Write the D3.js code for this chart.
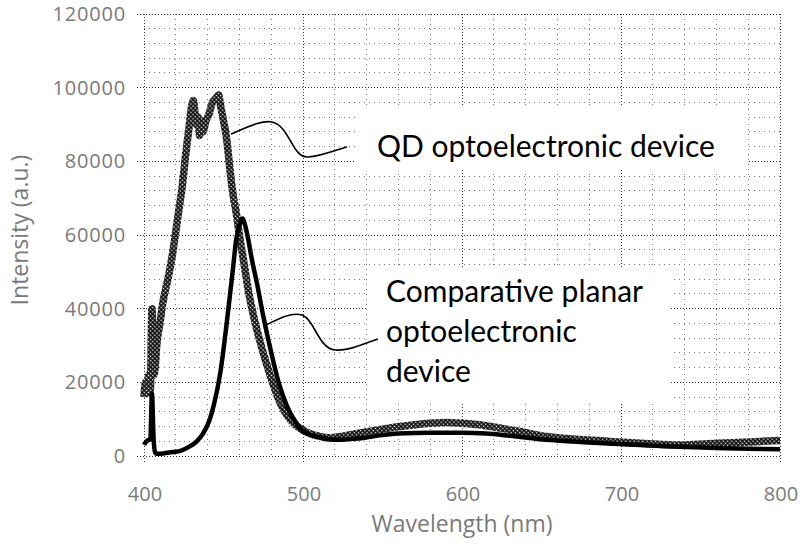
<!DOCTYPE html>
<html>
<head>
<meta charset="utf-8">
<script src="https://cdn.jsdelivr.net/npm/d3@7"></script>
<style>
  html, body { margin: 0; padding: 0; background: #fff; }
  svg { display: block; }
</style>
</head>
<body>
<svg id="chart" width="811" height="548"></svg>
<script>
// Emission spectra: wavelength (nm) vs intensity (a.u.)
const qdWavelength = [400, 401, 402, 403, 404, 405, 406, 407, 408, 410, 412, 415, 418, 420, 422, 424, 426, 428, 430, 431, 433, 434, 435, 436, 437, 439, 441, 443, 445, 447, 448, 450, 452, 454, 456, 458, 460, 463, 466, 470, 475, 480, 485, 490, 495, 500, 505, 510, 517, 525, 535, 550, 565, 580, 590, 600, 612, 625, 637, 653, 670, 685, 695, 715, 737, 755, 770, 785, 800];
const qdIntensity = [16000, 20000, 17000, 22000, 18000, 40000, 22000, 24000, 30000, 36000, 42000, 48000, 55000, 61000, 67000, 73000, 81000, 88000, 95000, 96500, 90000, 92000, 87000, 91000, 88000, 91000, 93000, 96000, 97000, 98000, 95500, 91000, 86000, 78000, 71000, 66000, 60000, 52000, 44000, 36000, 28000, 21000, 15000, 11000, 8500, 7000, 6000, 5400, 4900, 5400, 6200, 7300, 8200, 8900, 9100, 8900, 8400, 7500, 6600, 5300, 4600, 4200, 3900, 3400, 3000, 3300, 3600, 3900, 4200];

const planarWavelength = [400, 402, 404, 405, 406, 407, 408, 412, 418, 423, 428, 433, 437, 441, 444, 448, 453, 456, 458, 460, 462, 463, 465, 468, 471, 475, 479, 485, 490, 495, 500, 505, 510, 521, 530, 538, 548, 560, 580, 600, 615, 630, 653, 675, 695, 715, 737, 760, 780, 800];
const planarIntensity = [3000, 4200, 4500, 17000, 5000, 1000, 600, 700, 1100, 1400, 2400, 3900, 6000, 9500, 14000, 22600, 39700, 51000, 58800, 62500, 64500, 63500, 60000, 53000, 47000, 38000, 30000, 19500, 13500, 9500, 6800, 5700, 5100, 4400, 4600, 4900, 5600, 6100, 6300, 6300, 6100, 5500, 4400, 3800, 3300, 2900, 2500, 2200, 2000, 1800];

const xTicks = [400, 500, 600, 700, 800];
const yTicks = [0, 20000, 40000, 60000, 80000, 100000, 120000];
const xTitle = "Wavelength (nm)";
const yTitle = "Intensity (a.u.)";
const qdLabel = ["QD optoelectronic device"];
const planarLabel = ["Comparative planar", "optoelectronic", "device"];

const svg = d3.select("#chart");
const plotLeft = 144, plotRight = 780, plotTop = 14, plotBottom = 456;

const x = d3.scaleLinear().domain([400, 800]).range([plotLeft, plotRight]);
const y = d3.scaleLinear().domain([0, 120000]).range([plotBottom, plotTop]);

// chain-link texture for the QD trace
const defs = svg.append("defs");
const pat = defs.append("pattern")
  .attr("id", "mesh").attr("patternUnits", "userSpaceOnUse")
  .attr("width", 3).attr("height", 3)
  .attr("patternTransform", "rotate(45)");
pat.append("rect").attr("width", 3).attr("height", 3).attr("fill", "#111");
pat.append("circle").attr("cx", 1.5).attr("cy", 1.5).attr("r", 0.8).attr("fill", "#fff");

// grid
const grid = svg.append("g");
const minorX = d3.range(400, 801, 20).filter(v => v % 100 !== 0);
const minorY = d3.range(0, 120001, 4000).filter(v => v % 20000 !== 0);
grid.selectAll("line.mx").data(minorX).join("line")
  .attr("x1", d => x(d)).attr("x2", d => x(d)).attr("y1", plotTop).attr("y2", plotBottom)
  .attr("stroke", "#777").attr("stroke-width", 1).attr("stroke-dasharray", "1,4")
  .attr("shape-rendering", "crispEdges");
grid.selectAll("line.my").data(minorY).join("line")
  .attr("x1", plotLeft).attr("x2", plotRight).attr("y1", d => y(d)).attr("y2", d => y(d))
  .attr("stroke", "#777").attr("stroke-width", 1).attr("stroke-dasharray", "1,4")
  .attr("shape-rendering", "crispEdges");
grid.selectAll("line.Mx").data(xTicks).join("line")
  .attr("x1", d => x(d)).attr("x2", d => x(d)).attr("y1", plotTop).attr("y2", plotBottom + 8)
  .attr("stroke", "#333").attr("stroke-width", 1).attr("stroke-dasharray", "1,2")
  .attr("shape-rendering", "crispEdges");
grid.selectAll("line.My").data(yTicks).join("line")
  .attr("x1", plotLeft - 7).attr("x2", plotRight).attr("y1", d => y(d)).attr("y2", d => y(d))
  .attr("stroke", "#333").attr("stroke-width", 1).attr("stroke-dasharray", "1,2")
  .attr("shape-rendering", "crispEdges");

// tick labels
const tickFont = "'Open Sans', 'Noto Sans', sans-serif";
svg.append("g").selectAll("text").data(yTicks).join("text")
  .attr("x", 126).attr("y", d => y(d) + 7)
  .attr("text-anchor", "end").attr("font-family", tickFont).attr("font-size", 20)
  .attr("letter-spacing", 0.8)
  .attr("fill", "#7a7a7a").text(d => d);
svg.append("g").selectAll("text").data(xTicks).join("text")
  .attr("x", d => x(d) + 1).attr("y", 501)
  .attr("text-anchor", "middle").attr("font-family", tickFont).attr("font-size", 20)
  .attr("fill", "#7a7a7a").text(d => d);

svg.append("text").attr("x", 462).attr("y", 532)
  .attr("text-anchor", "middle").attr("font-family", tickFont).attr("font-size", 23)
  .attr("fill", "#7a7a7a").text(xTitle);
svg.append("text").attr("transform", "translate(28,230) rotate(-90)")
  .attr("text-anchor", "middle").attr("font-family", tickFont).attr("font-size", 23)
  .attr("fill", "#7a7a7a").text(yTitle);

// spectra
const line = d3.line().x(d => x(d[0])).y(d => y(d[1])).curve(d3.curveMonotoneX);
svg.append("path").datum(d3.zip(qdWavelength, qdIntensity))
  .attr("d", line).attr("fill", "none").attr("stroke", "url(#mesh)")
  .attr("stroke-width", 7.5).attr("stroke-linejoin", "round");
svg.append("path").datum(d3.zip(planarWavelength, planarIntensity))
  .attr("d", line).attr("fill", "none").attr("stroke", "#000")
  .attr("stroke-width", 4.5).attr("stroke-linejoin", "round");

// label boxes
const labelFont = "Lato, 'Open Sans', sans-serif";
svg.append("rect").attr("x", 355).attr("y", 106).attr("width", 392).attr("height", 64).attr("fill", "#fff");
svg.append("rect").attr("x", 367).attr("y", 268).attr("width", 303).attr("height", 134).attr("fill", "#fff");

svg.append("text").attr("x", 377).attr("y", 157)
  .attr("font-family", labelFont).attr("font-size", 30).attr("fill", "#000")
  .text(qdLabel[0]);
svg.append("g").selectAll("text").data(planarLabel).join("text")
  .attr("x", 386).attr("y", (d, i) => 302 + i * 40)
  .attr("font-family", labelFont).attr("font-size", 30).attr("fill", "#000")
  .text(d => d);

// leader lines from the traces to their labels
svg.append("path")
  .attr("d", "M231,134 C250,126 262,120 272,122 C290,126 292,158 308,157 C322,156 335,150 347,147")
  .attr("fill", "none").attr("stroke", "#000").attr("stroke-width", 1.6);
svg.append("path")
  .attr("d", "M266,325 C280,318 292,312 302,315 C315,320 318,348 335,350 C350,351 365,343 378,339")
  .attr("fill", "none").attr("stroke", "#000").attr("stroke-width", 1.6);
</script>
</body>
</html>
